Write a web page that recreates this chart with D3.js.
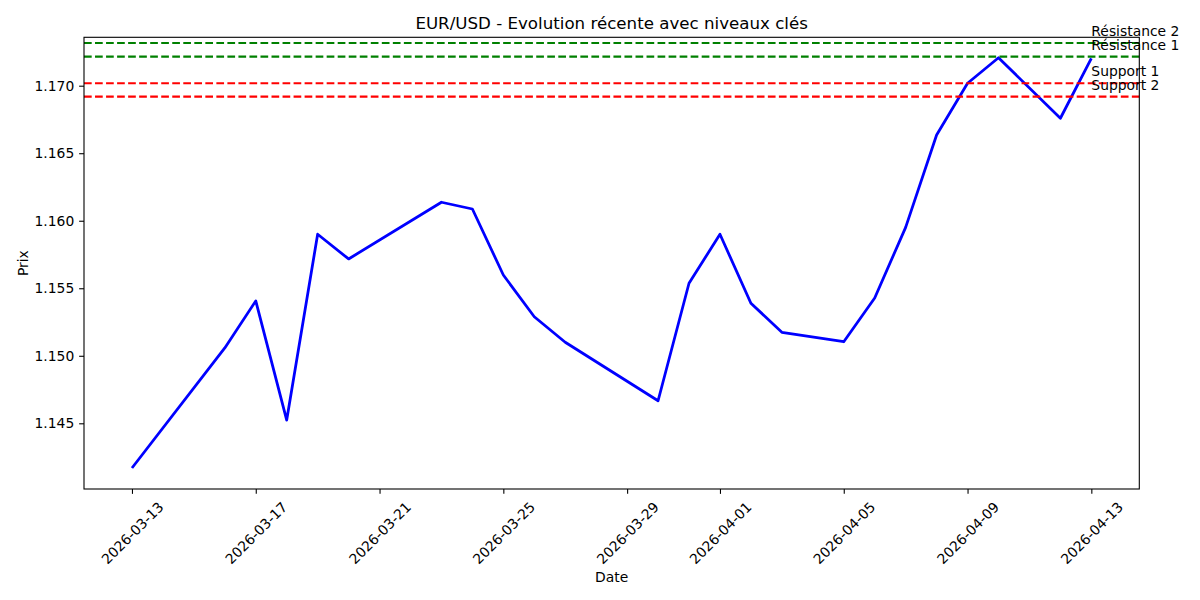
<!DOCTYPE html>
<html>
<head>
<meta charset="utf-8">
<script src="https://cdn.jsdelivr.net/npm/d3@7"></script>
<style>
  html, body { margin: 0; padding: 0; background: #fff; }
  svg { display: block; }
  text { font-family: "DejaVu Sans", sans-serif; fill: #000; }
</style>
</head>
<body>
<script>
const dates = ["2026-03-13","2026-03-16","2026-03-17","2026-03-18","2026-03-19","2026-03-20",
  "2026-03-23","2026-03-24","2026-03-25","2026-03-26","2026-03-27",
  "2026-03-30","2026-03-31","2026-04-01","2026-04-02","2026-04-03",
  "2026-04-05","2026-04-06","2026-04-07","2026-04-08","2026-04-09","2026-04-10",
  "2026-04-12","2026-04-13"];
const prices = [1.14169,1.15058,1.15406,1.14524,1.15900,1.15717,
  1.16137,1.16087,1.15598,1.15289,1.15100,
  1.14667,1.15537,1.15900,1.15389,1.15174,
  1.15104,1.15428,1.15951,1.16635,1.17018,1.17207,
  1.16759,1.17203];
const levelNames = ["Résistance 2","Résistance 1","Support 1","Support 2"];
const levelValues = [1.17316,1.17215,1.17018,1.16919];
const levelColors = ["#008000","#008000","#ff0000","#ff0000"];
const xTickLabels = ["2026-03-13","2026-03-17","2026-03-21","2026-03-25","2026-03-29",
  "2026-04-01","2026-04-05","2026-04-09","2026-04-13"];
const yTickValues = [1.145,1.150,1.155,1.160,1.165,1.170];
const titleText = "EUR/USD - Evolution récente avec niveaux clés";
const xLabel = "Date";
const yLabel = "Prix";

const W = 1200, H = 600;
const L = 84, R = 1139.3, T = 37.3, B = 489;
const parse = d3.utcParse("%Y-%m-%d");
const dayMs = 86400000;
const d0 = parse(dates[0]), d1 = parse(dates[dates.length-1]);
const pad = (d1 - d0) * 0.05;

const x = d3.scaleUtc().domain([new Date(+d0 - pad), new Date(+d1 + pad)]).range([L, R]);
const y = d3.scaleLinear().domain([1.140135, 1.173584]).range([B, T]);

const svg = d3.select("body").append("svg").attr("width", W).attr("height", H);

const data = dates.map((d, i) => ({ date: parse(d), v: prices[i] }));

// clip
svg.append("clipPath").attr("id", "clip").append("rect")
  .attr("x", L).attr("y", T).attr("width", R - L).attr("height", B - T);

const plot = svg.append("g").attr("clip-path", "url(#clip)");

plot.append("path").datum(data)
  .attr("fill", "none").attr("stroke", "#0000ff").attr("stroke-width", 2.78)
  .attr("stroke-linejoin", "round").attr("stroke-linecap", "butt")
  .attr("d", d3.line().x(d => x(d.date)).y(d => y(d.v)));

levelValues.forEach((v, i) => {
  plot.append("line")
    .attr("x1", L).attr("x2", R).attr("y1", y(v)).attr("y2", y(v))
    .attr("stroke", levelColors[i]).attr("stroke-width", 2.08)
    .attr("stroke-dasharray", "7.7,3.33");
});

// labels
levelValues.forEach((v, i) => {
  svg.append("text").attr("x", x(d1)).attr("y", y(v) - 7)
    .attr("font-size", "13.89px").text(levelNames[i]);
});

// axes
const xAxis = d3.axisBottom(x)
  .tickValues(xTickLabels.map(parse))
  .tickFormat(d3.utcFormat("%Y-%m-%d"))
  .tickSize(4.86).tickPadding(4.86);
const gx = svg.append("g").attr("transform", `translate(0,${B})`).call(xAxis);
gx.select(".domain").remove();
gx.selectAll(".tick line").attr("stroke", "#000").attr("stroke-width", 1.1);
gx.selectAll(".tick text")
  .attr("font-size", "13.89px").attr("fill", "#000")
  .attr("text-anchor", "middle").attr("dy", null).attr("y", null)
  .attr("dominant-baseline", "central")
  .attr("transform", "translate(0,44) rotate(-45)");

const yAxis = d3.axisLeft(y).tickValues(yTickValues).tickFormat(d3.format(".3f"))
  .tickSize(4.86).tickPadding(4.86);
const gy = svg.append("g").attr("transform", `translate(${L},0)`).call(yAxis);
gy.select(".domain").remove();
gy.selectAll(".tick line").attr("stroke", "#000").attr("stroke-width", 1.1);
gy.selectAll(".tick text").attr("font-size", "13.89px").attr("fill", "#000");

// frame
svg.append("rect").attr("x", L).attr("y", T).attr("width", R - L).attr("height", B - T)
  .attr("fill", "none").attr("stroke", "#000").attr("stroke-width", 1.1);

// title & labels
svg.append("text").attr("x", (L + R) / 2).attr("y", 29).attr("text-anchor", "middle")
  .attr("font-size", "16.67px").text(titleText);
svg.append("text").attr("x", (L + R) / 2).attr("y", 582).attr("text-anchor", "middle")
  .attr("font-size", "13.89px").text(xLabel);
svg.append("text").attr("transform", `translate(28,${(T + B) / 2}) rotate(-90)`)
  .attr("text-anchor", "middle").attr("font-size", "13.89px").text(yLabel);
</script>
</body>
</html>
